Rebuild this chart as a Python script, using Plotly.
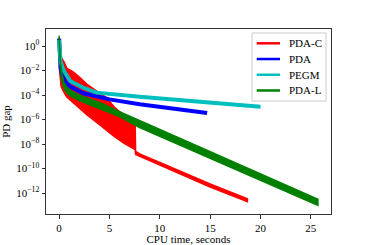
import plotly.graph_objects as go

# ---- data (values stored as log10 of PD gap) ----
names = ["PDA-C", "PDA", "PEGM", "PDA-L"]
colors = ["#ff0000", "#0000ff", "#00bfbf", "#008000"]

# PDA-C : oscillating band (upper / lower envelope)
t_pdac = [0, 0.05, 0.2, 0.5, 0.76, 1.4, 2.1, 2.75, 3.7, 4.7, 5.5, 6.5, 7.55, 7.6, 8, 10, 12, 15, 18.7]
pdac_upper_log = [0.7, 0.0, -0.9, -1.3, -1.8, -2.1, -2.6, -3.1, -3.65, -4.2, -5.0, -5.7, -6.4,
                  -8.6, -8.8, -9.5, -10.2, -11.25, -12.45]
pdac_lower_log = [0.7, -2.0, -3.3, -3.8, -4.15, -4.65, -5.15, -5.6, -6.2, -6.9, -7.4, -7.95, -8.45,
                  -8.85, -9.05, -9.75, -10.45, -11.5, -12.7]

# PDA : line
t_pda = [0, 0.05, 0.15, 0.3, 0.6, 1.1, 2.4, 3.7, 5, 8, 10, 14.7]
pda_log = [0.6, -0.8, -1.8, -2.4, -2.9, -3.3, -3.85, -4.1, -4.35, -4.75, -4.97, -5.47]

# PEGM : line
t_pegm = [0, 0.05, 0.15, 0.43, 1.1, 2.4, 3.7, 8, 14, 20]
pegm_log = [0.5, -0.6, -1.3, -1.95, -2.85, -3.4, -3.8, -4.13, -4.55, -4.95]

# PDA-L : oscillating band (upper / lower envelope)
t_pdal = [0, 0.05, 0.15, 0.3, 0.5, 0.8, 1.2, 2, 3, 4, 6, 8, 10, 14, 20, 25.7]
pdal_upper_log = [0.85, -0.3, -1.5, -2.35, -3.0, -3.4, -3.65, -4.0, -4.3, -4.6, -5.35, -6.1,
                  -6.8, -8.25, -10.45, -12.5]
pdal_lower_log = [0.85, -0.3, -1.9, -2.9, -3.45, -3.85, -4.1, -4.45, -4.8, -5.1, -5.75, -6.65,
                  -7.35, -8.8, -10.95, -13.0]

x_ticks = [0, 5, 10, 15, 20, 25]
y_tick_exps = [0, -2, -4, -6, -8, -10, -12]
y_tick_text = ["10<sup>0</sup>", "10<sup>−2</sup>", "10<sup>−4</sup>", "10<sup>−6</sup>",
               "10<sup>−8</sup>", "10<sup>−10</sup>", "10<sup>−12</sup>"]


def band(t, up, lo):
    xs = list(t) + list(t)[::-1]
    ys = [10 ** v for v in up] + [10 ** v for v in lo][::-1]
    return xs, ys


fig = go.Figure()

# drawing order: PDA-C, PDA, PEGM, PDA-L (last on top)
xs, ys = band(t_pdac, pdac_upper_log, pdac_lower_log)
fig.add_trace(go.Scatter(x=xs, y=ys, mode="lines", fill="toself", fillcolor=colors[0],
                         line=dict(color=colors[0], width=1.5), showlegend=False,
                         hoverinfo="skip", name=names[0]))
fig.add_trace(go.Scatter(x=t_pda, y=[10 ** v for v in pda_log], mode="lines",
                         line=dict(color=colors[1], width=4), showlegend=False, name=names[1]))
fig.add_trace(go.Scatter(x=t_pegm, y=[10 ** v for v in pegm_log], mode="lines",
                         line=dict(color=colors[2], width=4), showlegend=False, name=names[2]))
xs, ys = band(t_pdal, pdal_upper_log, pdal_lower_log)
fig.add_trace(go.Scatter(x=xs, y=ys, mode="lines", fill="toself", fillcolor=colors[3],
                         line=dict(color=colors[3], width=1.5), showlegend=False,
                         hoverinfo="skip", name=names[3]))

font_family = "Liberation Serif"

# ---- compact legend (matplotlib style), in paper coordinates ----
leg_x0, leg_x1, leg_y0, leg_y1 = 0.7228, 0.9825, 0.6108, 0.9784
fig.add_shape(type="rect", xref="paper", yref="paper", x0=leg_x0, x1=leg_x1, y0=leg_y0, y1=leg_y1,
              line=dict(color="#cccccc", width=1), fillcolor="rgba(255,255,255,0.8)", layer="above")
entry_top, entry_step = 0.9227, 0.0850
for i, (n, c) in enumerate(zip(names, colors)):
    yy = entry_top - i * entry_step
    fig.add_shape(type="line", xref="paper", yref="paper", x0=0.7393, x1=0.8211, y0=yy, y1=yy,
                  line=dict(color=c, width=2.5), layer="above")
    fig.add_annotation(xref="paper", yref="paper", x=0.8456, y=yy, text=n, showarrow=False,
                       xanchor="left", yanchor="middle",
                       font=dict(family=font_family, size=11, color="black"))

axis_common = dict(showline=True, mirror=True, linecolor="#333333", linewidth=1,
                   ticks="outside", ticklen=3.5, tickwidth=1, tickcolor="#333333",
                   showgrid=False, zeroline=False, automargin=False,
                   tickfont=dict(family=font_family, size=11, color="black"),
                   title_font=dict(family=font_family, size=11, color="black"))

fig.update_layout(
    width=368, height=245,
    margin=dict(l=46, r=37, t=29, b=31),
    paper_bgcolor="white", plot_bgcolor="white",
    font=dict(family=font_family, size=11, color="black"),
    xaxis=dict(range=[-1.3, 27.0], tickvals=x_ticks,
               title=dict(text="CPU time, seconds", standoff=2), **axis_common),
    yaxis=dict(type="log", range=[-13.7, 1.39],
               tickvals=[10 ** e for e in y_tick_exps], ticktext=y_tick_text,
               title=dict(text="PD gap", standoff=4), **axis_common),
    showlegend=False,
)

fig.write_html("out.html", config={"displayModeBar": False},
               post_script="document.body.style.margin='0';document.body.style.overflow='hidden';")
